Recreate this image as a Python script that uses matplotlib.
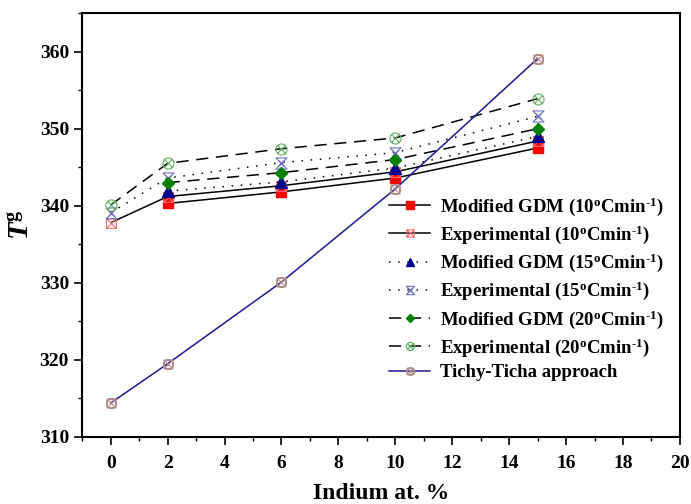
import matplotlib.pyplot as plt
import numpy as np
from matplotlib.path import Path

plt.rcParams['font.family'] = 'Liberation Serif'
plt.rcParams['font.weight'] = 'bold'
plt.rcParams['mathtext.fontset'] = 'custom'
plt.rcParams['mathtext.rm'] = 'Liberation Serif:bold'
plt.rcParams['mathtext.bf'] = 'Liberation Serif:bold'
plt.rcParams['mathtext.it'] = 'Liberation Serif:bold:italic'
plt.rcParams['mathtext.bfit'] = 'Liberation Serif:bold:italic'

# data
x_exp = [0, 2, 6, 10, 15]
x_gdm = [2, 6, 10, 15]
gdm10 = [340.3, 341.8, 343.6, 347.5]
exp10 = [337.8, 341.2, 342.6, 344.4, 348.4]
gdm15 = [341.9, 343.1, 344.9, 349.0]
exp15 = [339.1, 343.6, 345.6, 346.9, 351.6]
gdm20 = [343.0, 344.3, 346.0, 350.0]
exp20 = [340.1, 345.5, 347.4, 348.8, 353.9]
tichy = [314.4, 319.5, 330.1, 342.2, 359.1]

sup = r'$^{\mathbf{o}}$Cmin$^{\text{-1}}$)'
labels = [
    'Modified GDM (10' + sup,
    'Experimental (10' + sup,
    'Modified GDM (15' + sup,
    'Experimental (15' + sup,
    'Modified GDM (20' + sup,
    'Experimental (20' + sup,
    'Tichy-Ticha approach',
]

# custom open markers
M, L = Path.MOVETO, Path.LINETO
sq_x = Path([(-1, -1), (1, -1), (1, 1), (-1, 1), (-1, -1), (-1, -1), (1, 1), (-1, 1), (1, -1)],
            [M, L, L, L, L, M, L, M, L])
circ = Path.unit_circle()
d = 0.7
circ_x = Path(np.vstack([circ.vertices, [(-d, -d), (d, d), (-d, d), (d, -d)]]),
              list(circ.codes) + [M, L, M, L])
hour = Path([(-1, 1), (1, 1), (-1, -1), (1, -1), (-1, 1), (-0.6, 0.6), (0.6, -0.6), (0.6, 0.6), (-0.6, -0.6)],
            [M, L, L, L, L, M, L, M, L])
tt = Path(np.vstack([sq_x.vertices * 0.9, circ.vertices]), list(sq_x.codes) + list(circ.codes))

fig = plt.figure(figsize=(6.91, 5.04), dpi=100)
ax = fig.add_axes([0.119, 0.133, 0.865, 0.841])

lw = 1.1
dash = (0, (8, 5))
dot = (0, (1, 5))
ms = 7
ax.plot(x_gdm, gdm10, color='black', lw=lw, ls='-', marker='s', ms=ms, mfc='red', mec='red', label=labels[0])
ax.plot(x_exp, exp10, color='black', lw=lw, ls='-', marker=sq_x, ms=ms, mfc='none', mec='#f07070', mew=0.8, label=labels[1])
ax.plot(x_gdm, gdm15, color='black', lw=lw, ls=dot, marker='^', ms=ms + 1, mfc='#00008b', mec='#00008b', label=labels[2])
ax.plot(x_exp, exp15, color='black', lw=lw, ls=dot, marker=hour, ms=ms + 1, mfc='none', mec='#7070c0', mew=0.8, label=labels[3])
ax.plot(x_gdm, gdm20, color='black', lw=lw, ls=dash, marker='D', ms=ms - 1, mfc='#008000', mec='#008000', label=labels[4])
ax.plot(x_exp, exp20, color='black', lw=lw, ls=dash, marker=circ_x, ms=ms + 1, mfc='none', mec='#60b060', mew=0.8, label=labels[5])
ax.plot(x_exp, tichy, color='#1a1a90', lw=lw, ls='-', marker=tt, ms=ms, mfc='none', mec='#b08888', mew=0.8, label=labels[6])

ax.set_xlim(-1, 20)
ax.set_ylim(310, 365)
ax.set_xticks(range(0, 21, 2))
ax.set_xticks(range(-1, 21, 1), minor=True)
ax.set_yticks(range(310, 361, 10))
ax.set_yticks(range(310, 366, 5), minor=True)
ax.tick_params(axis='both', which='major', direction='out', length=6, width=1.2, labelsize=14)
ax.tick_params(axis='x', which='major', pad=7)
ax.tick_params(axis='both', which='minor', direction='out', length=3, width=1.0)
ax.tick_params(top=False, right=False)
for s in ax.spines.values():
    s.set_linewidth(1.5)

ax.set_xlabel('Indium at. %', fontsize=17, fontweight='bold', labelpad=8)
ax.set_ylabel(r'$\bfit{T}^{\mathbf{g}}$', fontsize=21, labelpad=4)

leg = ax.legend(loc='lower right', bbox_to_anchor=(0.995, 0.1), frameon=False, fontsize=13.5,
                handlelength=2.2, labelspacing=0.3, handletextpad=0.5, borderpad=0.2,
                markerscale=0.75)

fig.savefig('out.png', dpi=100)
